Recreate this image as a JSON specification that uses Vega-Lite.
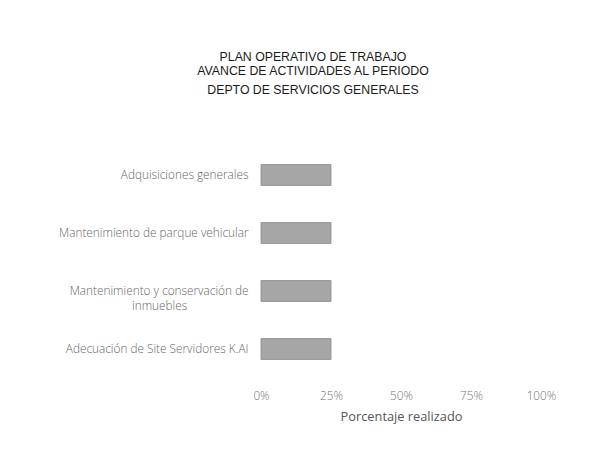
{
  "$schema": "https://vega.github.io/schema/vega-lite/v6.json",
  "autosize": {"type": "none"},
  "width": 280,
  "height": 232,
  "padding": {"left": 261, "top": 146, "right": 69, "bottom": 78},
  "background": "white",
  "title": {
    "text": ["PLAN OPERATIVO DE TRABAJO", "AVANCE DE ACTIVIDADES AL PERIODO"],
    "subtitle": "DEPTO DE SERVICIOS GENERALES",
    "font": "Liberation Sans",
    "fontSize": 12.3,
    "fontWeight": "normal",
    "color": "#1a1a1a",
    "lineHeight": 14,
    "subtitleFont": "Liberation Sans",
    "subtitleFontSize": 12.3,
    "subtitleColor": "#1a1a1a",
    "subtitlePadding": 6,
    "anchor": "middle",
    "dx": -88,
    "offset": 50
  },
  "data": {
    "values": [
      {"actividad": "Adquisiciones generales", "avance": 25, "orden": 1},
      {"actividad": "Mantenimiento de parque vehicular", "avance": 25, "orden": 2},
      {"actividad": "Mantenimiento y conservación de inmuebles", "avance": 25, "orden": 3},
      {"actividad": "Adecuación de Site Servidores K.AI", "avance": 25, "orden": 4}
    ]
  },
  "mark": {"type": "bar", "color": "#a6a6a6", "stroke": "#8a8a8a", "strokeWidth": 0.8},
  "encoding": {
    "y": {
      "field": "actividad",
      "type": "nominal",
      "sort": {"field": "orden"},
      "scale": {"paddingInner": 0.64, "paddingOuter": 0.32},
      "axis": {
        "title": null,
        "domain": false,
        "ticks": false,
        "labelPadding": 13,
        "labelFont": "Open Sans",
        "labelFontSize": 11.8,
        "labelFontWeight": 300,
        "labelColor": "#666666",
        "labelLimit": 300,
        "labelLineHeight": 15,
        "labelExpr": "datum.label == 'Mantenimiento y conservación de inmuebles' ? ['Mantenimiento y conservación de', 'inmuebles\u00a0\u00a0\u00a0\u00a0\u00a0\u00a0\u00a0\u00a0\u00a0\u00a0\u00a0\u00a0\u00a0\u00a0\u00a0\u00a0\u00a0\u00a0\u00a0\u00a0\u2060'] : datum.label"
      }
    },
    "x": {
      "field": "avance",
      "type": "quantitative",
      "scale": {"domain": [0, 100]},
      "axis": {
        "title": "Porcentaje realizado",
        "values": [0, 25, 50, 75, 100],
        "format": ".0f",
        "labelExpr": "datum.label + '%'",
        "labelFlush": false,
        "grid": false,
        "domain": false,
        "ticks": false,
        "labelPadding": 12,
        "labelFont": "Open Sans",
        "labelFontSize": 11.8,
        "labelFontWeight": 300,
        "labelColor": "#737373",
        "titleFont": "Open Sans",
        "titleFontSize": 12.8,
        "titleFontWeight": "normal",
        "titleColor": "#555555",
        "titlePadding": 9
      }
    }
  },
  "config": {"view": {"stroke": null}}
}
